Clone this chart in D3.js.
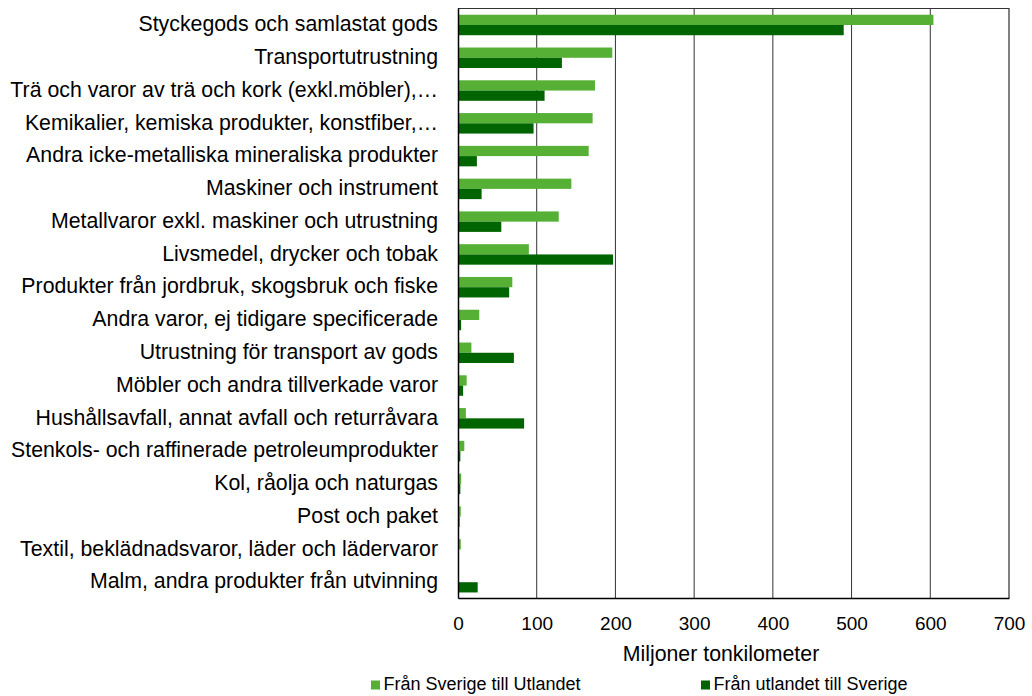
<!DOCTYPE html>
<html>
<head>
<meta charset="utf-8">
<script src="https://cdn.jsdelivr.net/npm/d3@7"></script>
<style>
  body { margin: 0; background: #fff; font-family: "Liberation Sans", Arial, sans-serif; }
  svg text { fill: #000; }
</style>
</head>
<body>
<main></main>
<script>
// categories and series
const categories = [
  "Styckegods och samlastat gods",
  "Transportutrustning",
  "Trä och varor av trä och kork (exkl.möbler),…",
  "Kemikalier, kemiska produkter, konstfiber,…",
  "Andra icke-metalliska mineraliska produkter",
  "Maskiner och instrument",
  "Metallvaror exkl. maskiner och utrustning",
  "Livsmedel, drycker och tobak",
  "Produkter från jordbruk, skogsbruk och fiske",
  "Andra varor, ej tidigare specificerade",
  "Utrustning för transport av gods",
  "Möbler och andra tillverkade varor",
  "Hushållsavfall, annat avfall och returråvara",
  "Stenkols- och raffinerade petroleumprodukter",
  "Kol, råolja och naturgas",
  "Post och paket",
  "Textil, beklädnadsvaror, läder och lädervaror",
  "Malm, andra produkter från utvinning"
];
const franSverige = [604, 196, 174, 171, 166, 144, 128, 90, 69, 27, 17, 11, 10, 8, 4, 3.5, 3.5, 0.5];
const franUtlandet = [490, 132, 110, 96, 24, 30, 55, 197, 65, 4, 71, 6.5, 84, 3, 3, 2, 0, 25];
const xTicks = [0, 100, 200, 300, 400, 500, 600, 700];
const seriesNames = ["Från Sverige till Utlandet", "Från utlandet till Sverige"];
const colors = ["#55b035", "#006400"];

const W = 1032, H = 696;
const margin = { top: 8, right: 23, bottom: 98, left: 458 };
const fontFam = "Liberation Sans, Arial, sans-serif";

const svg = d3.select("main").append("svg")
  .attr("width", W).attr("height", H);

const x = d3.scaleLinear().domain([0, 700]).range([margin.left, W - margin.right]);
const y = d3.scaleBand().domain(categories).range([margin.top, H - margin.bottom]);
const sub = d3.scaleBand().domain([0, 1]).range([0, y.bandwidth()]).paddingOuter(0.6);

// gridlines
svg.append("g").selectAll("line")
  .data(xTicks.slice(1))
  .enter().append("line")
  .attr("x1", d => x(d)).attr("x2", d => x(d))
  .attr("y1", margin.top).attr("y2", H - margin.bottom)
  .attr("stroke", d => d === 700 ? "#000" : "#333")
  .attr("stroke-width", 1);

// top border
svg.append("line")
  .attr("x1", margin.left).attr("x2", x(700))
  .attr("y1", margin.top + 0.5).attr("y2", margin.top + 0.5)
  .attr("stroke", "#333");

// bars
const series = [franSverige, franUtlandet];
series.forEach((vals, si) => {
  svg.append("g").selectAll("rect")
    .data(vals)
    .enter().append("rect")
    .attr("x", x(0))
    .attr("y", (d, i) => y(categories[i]) + sub(si) + 0.6)
    .attr("width", d => x(d) - x(0))
    .attr("height", sub.bandwidth())
    .attr("fill", colors[si]);
});

// axes
const xAxis = d3.axisBottom(x).tickValues(xTicks).tickSize(0).tickPadding(19);
svg.append("g")
  .attr("transform", "translate(0," + (H - margin.bottom) + ")")
  .call(xAxis)
  .call(g => g.select(".domain").attr("stroke", "#000").attr("stroke-width", 1.5))
  .selectAll("text").attr("font-size", 19).attr("font-family", fontFam);

const yAxis = d3.axisLeft(y).tickSize(0).tickPadding(20);
svg.append("g")
  .attr("transform", "translate(" + margin.left + ",0)")
  .call(yAxis)
  .call(g => g.select(".domain").attr("stroke", "#000").attr("stroke-width", 1.5))
  .selectAll("text").attr("font-size", 21.3).attr("font-family", fontFam);

// axis title
svg.append("text")
  .attr("x", 721)
  .attr("y", 661)
  .attr("text-anchor", "middle")
  .attr("font-size", 21.3)
  .attr("font-family", fontFam)
  .text("Miljoner tonkilometer");

// legend
const legendX = [371, 701];
const legend = svg.append("g").selectAll("g")
  .data(seriesNames)
  .enter().append("g")
  .attr("transform", (d, i) => "translate(" + legendX[i] + ",690)");
legend.append("rect")
  .attr("x", 0).attr("y", -9.5).attr("width", 9).attr("height", 9)
  .attr("fill", (d, i) => colors[i]);
legend.append("text")
  .attr("x", 12.5).attr("y", 0)
  .attr("font-size", 18)
  .attr("font-family", fontFam)
  .text(d => d);
</script>
</body>
</html>
